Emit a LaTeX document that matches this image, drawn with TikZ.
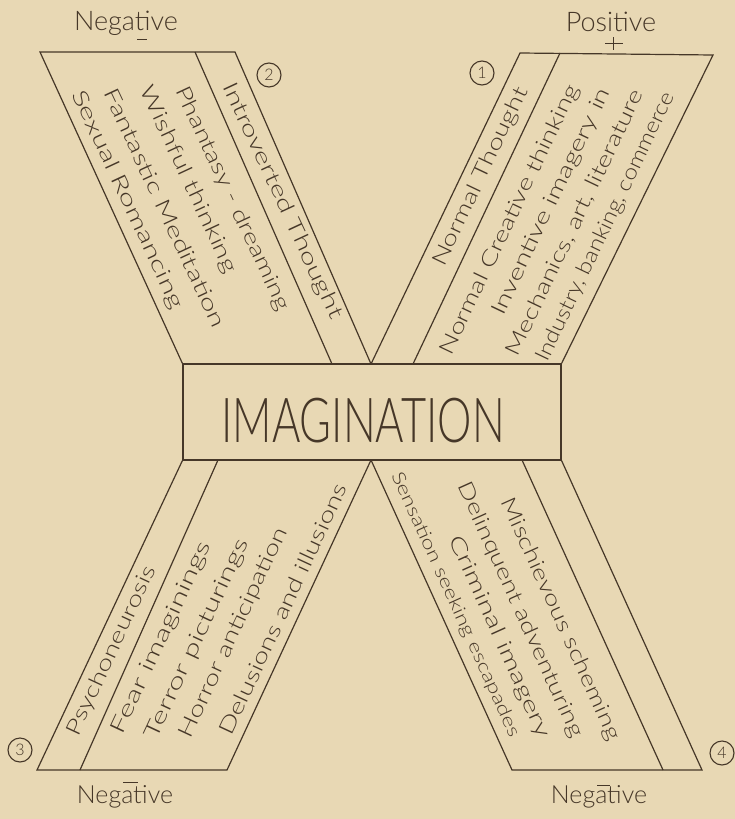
\documentclass[tikz,border=0pt]{standalone}
\usepackage{fontspec}
\setmainfont{Lato}[UprightFont={* Light}]
\usetikzlibrary{positioning,calc}
\definecolor{paper}{RGB}{232,216,180}
\definecolor{ink}{RGB}{70,55,40}
\newcommand{\fitto}[2]{\resizebox{#1pt}{\height}{#2}}

\begin{document}
\begin{tikzpicture}[x=1pt,y=-1pt,color=ink,line width=1.2pt,
  lbl/.style={inner sep=0pt,font=\fontsize{21}{21}\selectfont},
  head/.style={inner sep=0pt,font=\fontsize{27}{27}\selectfont},
  num/.style={draw,circle,inner sep=0pt,minimum size=24pt,line width=1.1pt,font=\fontsize{16}{16}\selectfont}]
\fill[paper] (0,0) rectangle (735,819);
\useasboundingbox (0,0) rectangle (735,819);
\node[draw,minimum width=378pt,minimum height=96pt] (imag) at (372,412) {};
\node[inner sep=0pt,font=\fontsize{62}{62}\selectfont] (imagtxt) at (363,421) {\scalebox{0.7}[1]{IMAGINATION}};
\coordinate (v1) at (371,364); \coordinate (v2) at (371,460);
\coordinate (tl1) at (40,52); \coordinate (tl2) at (195,52); \coordinate (tl3) at (235,52); \coordinate (tl4) at (332,364);
\coordinate (tr1) at (520,53); \coordinate (tr2) at (560,53); \coordinate (tr3) at (713,55); \coordinate (tr4) at (413,364);
\coordinate (bl1) at (37,770); \coordinate (bl2) at (80,770); \coordinate (bl3) at (227,770); \coordinate (bl4) at (218,460);
\coordinate (br1) at (512,770); \coordinate (br2) at (663,770); \coordinate (br3) at (702,770); \coordinate (br4) at (522,460);
\draw (imag.north west) -- (tl1) -- (tl3) -- (v1); \draw (tl2) -- (tl4);
\draw (v1) -- (tr1) -- (tr3) -- (imag.north east); \draw (tr2) -- (tr4);
\draw (imag.south west) -- (bl1) -- (bl3) -- (v2); \draw (bl4) -- (bl2);
\draw (v2) -- (br1) -- (br3) -- (imag.south east); \draw (br4) -- (br2);

\node[lbl,rotate=-65] (introv) at (282,201) {\fitto{258}{Introverted Thought}};
\node[lbl,rotate=-65] (phant) at (232,199) {\fitto{245}{Phantasy - dreaming}};
\node[lbl,rotate=-65] (wish) at (188,180) {\fitto{204}{Wishful thinking}};
\node[lbl,rotate=-65] (fant) at (165,208) {\fitto{261}{Fantastic Meditation}};
\node[lbl,rotate=-65] (sexual) at (127,200) {\fitto{239}{Sexual Romancing}};

\node[lbl,rotate=64.5] (normal) at (481,177) {\fitto{195}{Normal Thought}};
\node[lbl,rotate=64.5] (creat) at (510,220) {\fitto{297}{Normal Creative thinking}};
\node[lbl,rotate=64.5] (invent) at (552,202) {\fitto{249}{Inventive imagery in}};
\node[lbl,rotate=64.5] (mech) at (575,223) {\fitto{292}{Mechanics, art, literature}};
\node[lbl,rotate=64.5] (indus) at (606,227) {\fitto{295}{Industry, banking, commerce}};

\node[lbl,rotate=65] (psycho) at (112,651) {\fitto{185}{Psychoneurosis}};
\node[lbl,rotate=65] (fear) at (162,638) {\fitto{210}{Fear imaginings}};
\node[lbl,rotate=65] (terror) at (198,639) {\fitto{218}{Terror picturings}};
\node[lbl,rotate=65] (horror) at (234,633) {\fitto{229}{Horror anticipation}};
\node[lbl,rotate=65] (delus) at (283,609) {\fitto{275}{Delusions and illusions}};

\node[lbl,rotate=-65.7] (misch) at (560,619) {\fitto{264}{Mischievous scheming}};
\node[lbl,rotate=-65.7] (delinq) at (520,610) {\fitto{278}{Delinquent adventuring}};
\node[lbl,rotate=-65.7] (crim) at (499,637) {\fitto{220}{Criminal imagery}};
\node[lbl,rotate=-65.7,font=\fontsize{18}{18}\selectfont] (sensa) at (455,605) {\fitto{289}{Sensation seeking escapades}};

\node[head] (negtl) at (126,23) {Negative};
\node[head] (postr) at (611,22) {Positive};
\node[head,font=\fontsize{25}{25}\selectfont] (negbl) at (125,797) {Negative};
\node[head,font=\fontsize{25}{25}\selectfont] (negbr) at (599,797) {Negative};
\draw[line width=1pt] (137,39) -- (147,39);
\draw[line width=1pt] (605,43) -- (623,43) (613,37) -- (613,50);
\draw[line width=1pt] (123,782) -- (138,782);
\draw[line width=1pt] (597,785) -- (610,785);

\node[num] (n1) at (482,73) {1};
\node[num] (n2) at (269,75) {2};
\node[num] (n3) at (20,750) {3};
\node[num] (n4) at (722,753) {4};
\end{tikzpicture}
\end{document}
